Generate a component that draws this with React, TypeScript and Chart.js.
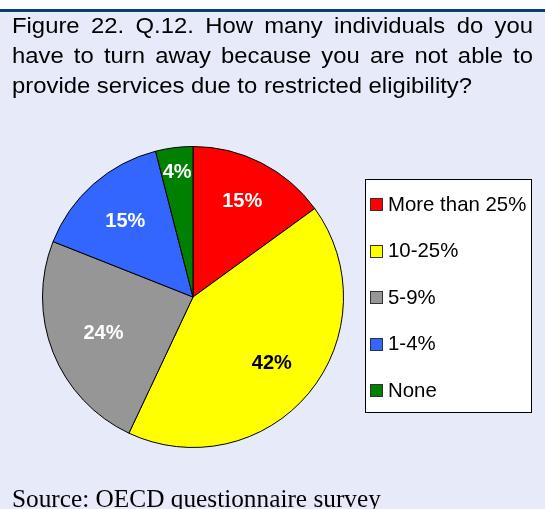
import { useEffect, useRef } from "react";
import { Chart, registerables } from "chart.js";

Chart.register(...registerables);

const categories = ["More than 25%", "10-25%", "5-9%", "1-4%", "None"];
const shares = [15, 42, 24, 15, 4];
const sliceColors = ["#ff0000", "#ffff00", "#969696", "#3366ff", "#008000"];
const labelColors = ["#ffffff", "#000000", "#ffffff", "#ffffff", "#ffffff"];
const labelRadius = [0.72, 0.68, 0.64, 0.68, 0.84];
const titleLines = [
  "Figure 22. Q.12. How many individuals do you",
  "have to turn away because you are not able to",
  "provide services due to restricted eligibility?",
];
const sourceText = "Source: OECD questionnaire survey";

const W = 545;
const H = 509;
const BG = "#e7ebf9";
const SANS = "'Liberation Sans', Arial, sans-serif";

const decorPlugin = {
  id: "decor",
  beforeDraw(chart: any) {
    const ctx = chart.ctx;
    ctx.save();
    ctx.fillStyle = "#ffffff";
    ctx.fillRect(0, 0, W, H);
    ctx.fillStyle = BG;
    ctx.fillRect(0, 12, W, H - 12);
    ctx.fillStyle = "#0b3a78";
    ctx.fillRect(0, 9, W, 3);

    // title, narrow (horizontally condensed) and justified
    ctx.fillStyle = "#000000";
    ctx.font = `22px ${SANS}`;
    ctx.textBaseline = "alphabetic";
    ctx.textAlign = "left";
    const left = 12;
    const right = 533;
    const lastNatural = ctx.measureText(titleLines[titleLines.length - 1]).width;
    const sx = 460 / lastNatural;
    titleLines.forEach((line, li) => {
      const y = 33 + li * 30;
      const words = line.split(" ");
      const widths = words.map((w) => ctx.measureText(w).width * sx);
      const total = widths.reduce((a, b) => a + b, 0);
      const spaceW = ctx.measureText(" ").width * sx;
      const gap =
        li === titleLines.length - 1 ? spaceW : (right - left - total) / (words.length - 1);
      let x = left;
      words.forEach((w, i) => {
        ctx.save();
        ctx.translate(x, y);
        ctx.scale(sx, 1);
        ctx.fillText(w, 0, 0);
        ctx.restore();
        x += widths[i] + gap;
      });
    });

    // source
    ctx.font = "25.3px 'Liberation Serif', 'Times New Roman', serif";
    ctx.fillText(sourceText, 12, 507);
    ctx.restore();
  },
  afterDraw(chart: any) {
    const ctx = chart.ctx;
    const meta = chart.getDatasetMeta(0);
    ctx.save();
    // data labels
    ctx.font = `bold 20px ${SANS}`;
    ctx.textAlign = "center";
    ctx.textBaseline = "middle";
    meta.data.forEach((arc: any, i: number) => {
      const mid = (arc.startAngle + arc.endAngle) / 2;
      const r = arc.outerRadius * labelRadius[i];
      ctx.fillStyle = labelColors[i];
      ctx.fillText(`${shares[i]}%`, arc.x + Math.cos(mid) * r, arc.y + Math.sin(mid) * r + 1);
    });

    // legend box
    const bx = 365.5;
    const by = 179.5;
    const bw = 166;
    const bh = 233;
    ctx.fillStyle = "#ffffff";
    ctx.fillRect(bx, by, bw, bh);
    ctx.strokeStyle = "#000000";
    ctx.lineWidth = 1;
    ctx.strokeRect(bx, by, bw, bh);
    ctx.font = `20.4px ${SANS}`;
    ctx.textAlign = "left";
    ctx.textBaseline = "middle";
    categories.forEach((c, i) => {
      const cy = 204 + i * 46.5;
      ctx.fillStyle = sliceColors[i];
      ctx.fillRect(370.5, Math.round(cy - 6) + 0.5, 12, 12);
      ctx.strokeStyle = "#333333";
      ctx.strokeRect(370.5, Math.round(cy - 6) + 0.5, 12, 12);
      ctx.fillStyle = "#000000";
      ctx.fillText(c, 388, cy + 1);
    });
    ctx.restore();
  },
};

export default function App() {
  const ref = useRef<HTMLCanvasElement | null>(null);
  useEffect(() => {
    if (!ref.current) return;
    const chart = new Chart(ref.current, {
      type: "pie",
      data: {
        labels: categories,
        datasets: [
          {
            data: shares,
            backgroundColor: sliceColors,
            borderColor: "#000000",
            borderWidth: 1,
            hoverOffset: 0,
          },
        ],
      },
      options: {
        responsive: false,
        animation: false,
        devicePixelRatio: 1,
        layout: { padding: { left: 42, top: 146, right: 201, bottom: 61 } },
        plugins: {
          legend: { display: false },
          tooltip: { enabled: false },
          title: { display: false },
        },
        events: [],
      },
      plugins: [decorPlugin],
    });
    return () => chart.destroy();
  }, []);
  return (
    <div style={{ position: "fixed", left: 0, top: 0, width: W, height: H }}>
      <canvas ref={ref} width={W} height={H} style={{ display: "block", width: W, height: H }} />
    </div>
  );
}
